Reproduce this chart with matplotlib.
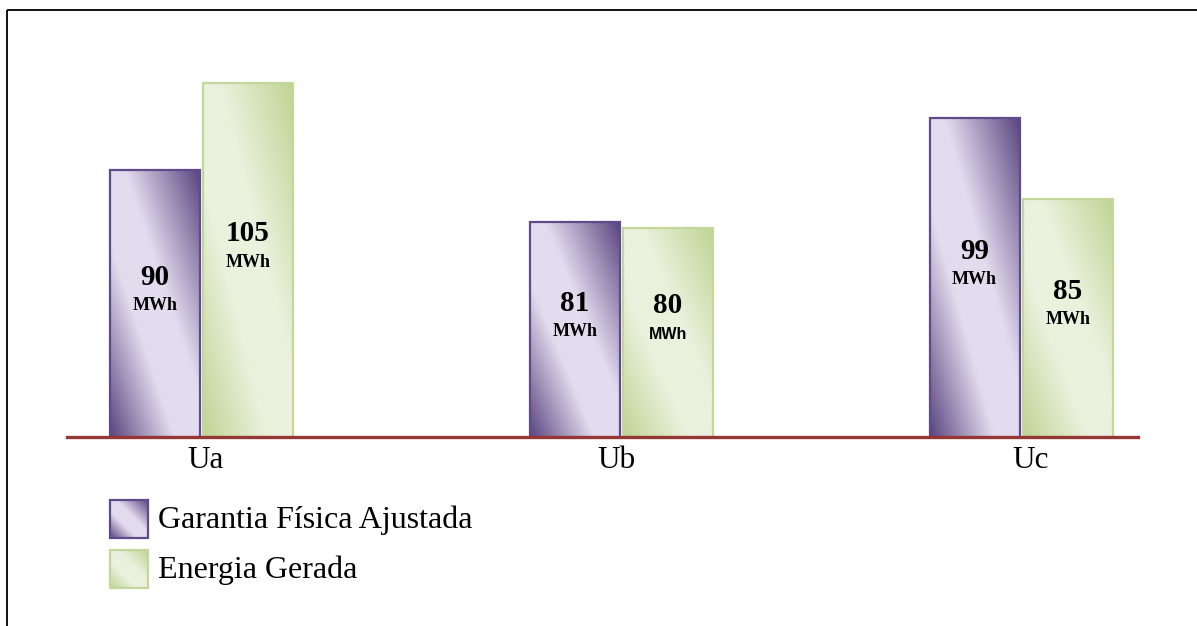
import numpy as np
import matplotlib
matplotlib.use("Agg")
import matplotlib.pyplot as plt
from matplotlib.colors import LinearSegmentedColormap
from matplotlib.patches import Rectangle

# Data
units = ["Ua", "Ub", "Uc"]
garantia = [90, 81, 99]
energia = [105, 80, 85]
series_names = ["Garantia Física Ajustada", "Energia Gerada"]
unit_label = "MWh"

# Layout
group_x = np.array([0.0, 1.0, 1.952])
label_x = np.array([0.011, 0.989, 1.975])

W, H = 1197, 626
fig = plt.figure(figsize=(W / 100, H / 100), dpi=100)
SERIF = ["Liberation Serif", "DejaVu Serif"]

purple_dark, purple_light = "#5a4580", "#e3dcee"
green_dark, green_light = "#bfd494", "#eaf1dd"
purple_edge, green_edge = "#5f4b8b", "#c3d69b"

purple_cmap = LinearSegmentedColormap.from_list(
    "purple_sheen",
    [(0.0, purple_dark), (0.36, purple_light), (0.58, purple_light), (1.0, purple_dark)])
green_cmap = LinearSegmentedColormap.from_list(
    "green_sheen",
    [(0.0, green_dark), (0.36, green_light), (0.60, green_light), (1.0, green_dark)])


def diagonal_gradient(n=200):
    u = np.linspace(0, 1, n)
    U, V = np.meshgrid(u, u)
    return (U + V) / 2.0


grad = diagonal_gradient()

# Main plot area
ax_h_px = 400
ax = fig.add_axes([67 / W, 189 / H, (1138 - 67) / W, ax_h_px / H])
ax.patch.set_alpha(0)
y_base = 43.7
y_top = y_base + ax_h_px / 5.77

width = 0.214
offset = 0.111

series = [
    (garantia, -offset, purple_cmap, purple_edge),
    (energia, offset, green_cmap, green_edge),
]

for si, (values, off, cmap, edge) in enumerate(series):
    bars = ax.bar(group_x + off, values, width, facecolor="none", edgecolor=edge,
                  linewidth=1.6, zorder=3)
    for xi, (b, v) in enumerate(zip(bars, values)):
        x0 = b.get_x()
        im = ax.imshow(grad, cmap=cmap, vmin=0, vmax=1, origin="lower",
                       extent=(x0, x0 + width, y_base, v), aspect="auto",
                       interpolation="bilinear", zorder=2)
        im.set_clip_path(b)
        xc = x0 + width / 2
        ymid = (y_base + v) / 2
        ax.annotate(f"{v}", xy=(xc, ymid), xytext=(0, 19), textcoords="offset points",
                    ha="center", va="center", fontsize=21, fontweight="bold",
                    family=SERIF, color="black", zorder=4)
        sans_unit = (si == 1 and xi == 1)
        unit_family = ["Liberation Sans", "DejaVu Sans"] if sans_unit else SERIF
        unit_size = 11.5 if sans_unit else 13
        ax.annotate(unit_label, xy=(xc, ymid), xytext=(0, -1.5), textcoords="offset points",
                    ha="center", va="center", fontsize=unit_size, fontweight="bold",
                    family=unit_family, color="black", zorder=4)

ax.set_xlim(-0.32, 2.23)
ax.set_ylim(y_base, y_top)
for side in ("top", "left", "right"):
    ax.spines[side].set_visible(False)
ax.spines["bottom"].set_color("#953735")
ax.spines["bottom"].set_linewidth(2.4)
ax.spines["bottom"].set_zorder(5)
ax.set_yticks([])
ax.set_xticks(label_x)
ax.set_xticklabels(units, fontsize=22.5, family=SERIF)
ax.tick_params(axis="x", length=0, pad=6.5)

# Overlay in pixel coordinates for the legend and frame
lax = fig.add_axes([0, 0, 1, 1])
lax.set_xlim(0, W)
lax.set_ylim(H, 0)
lax.axis("off")

legend_items = [
    (series_names[0], purple_cmap, purple_edge, 500),
    (series_names[1], green_cmap, green_edge, 550),
]
sq = 38
for name, cmap, edge, ytop in legend_items:
    rect = Rectangle((110, ytop), sq, sq, facecolor="none", edgecolor=edge,
                     linewidth=1.6, zorder=3)
    lax.add_patch(rect)
    im = lax.imshow(grad, cmap=cmap, vmin=0, vmax=1, origin="lower",
                    extent=(110, 110 + sq, ytop + sq, ytop), aspect="auto",
                    interpolation="bilinear", zorder=2)
    im.set_clip_path(rect)
    lax.text(158, ytop + sq / 2 + 1, name, fontsize=23, family=SERIF,
             ha="left", va="center", color="black")

lax.plot([7, W], [10, 10], color="black", linewidth=1.3, solid_capstyle="butt")
lax.plot([7, 7], [10, H], color="black", linewidth=1.3, solid_capstyle="butt")
lax.set_xlim(0, W)
lax.set_ylim(H, 0)

fig.savefig("out.png", dpi=100, facecolor="white")
